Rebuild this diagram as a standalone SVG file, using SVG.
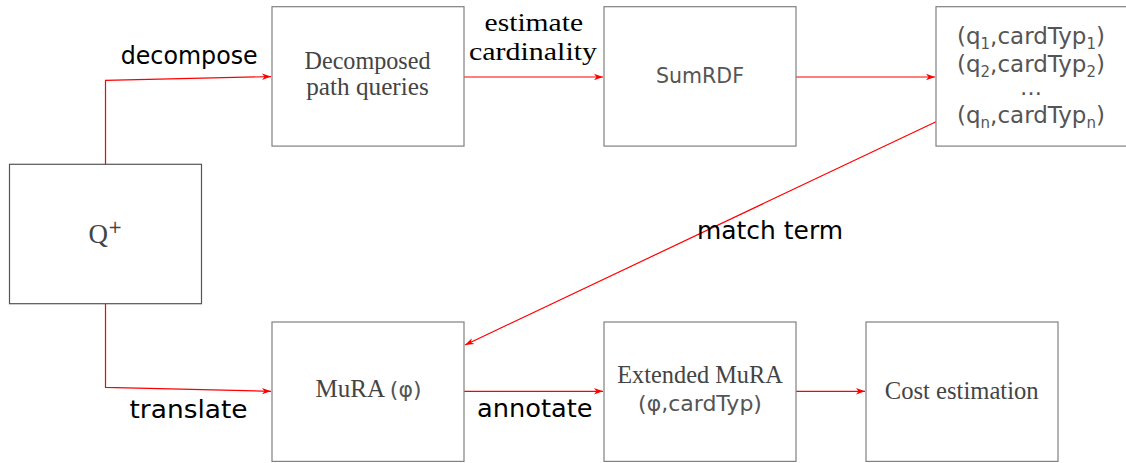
<svg xmlns="http://www.w3.org/2000/svg" width="1126" height="463" viewBox="0 0 1126 463">
<defs>
<style>
.box{fill:#fff;stroke:#808080;stroke-width:1.2}
.nt{font-family:"Liberation Serif",serif;font-size:25px;fill:#444;text-anchor:middle}
.mt{font-family:"DejaVu Sans",sans-serif;font-size:22px;fill:#555;text-anchor:middle}
.lbl{font-family:"DejaVu Sans",sans-serif;font-size:24px;fill:#000}
.lbs{font-family:"Liberation Serif",serif;font-size:26px;fill:#000;text-anchor:middle}
.conn{fill:none;stroke:#f00;stroke-width:1.2;marker-end:url(#ah)}
</style>
<marker id="ah" markerUnits="userSpaceOnUse" markerWidth="12" markerHeight="10" viewBox="-10 -5 12 10" refX="0" refY="0" orient="auto">
<path d="M0,0 L-9,-3.2 L-6.5,0 L-9,3.2 Z" fill="#f00"/>
</marker>
</defs>
<g id="connectors">
<polyline class="conn" points="105.5,164 105.5,80.3 271,76.6"/>
<polyline class="conn" points="105.5,303.7 105.5,387.3 271,391.3"/>
<line class="conn" x1="464" y1="77" x2="603" y2="77"/>
<line class="conn" x1="796" y1="77" x2="935" y2="77"/>
<line class="conn" x1="936" y1="121.7" x2="465" y2="345"/>
<line class="conn" x1="464" y1="391.3" x2="603" y2="391.3"/>
<line class="conn" x1="796" y1="391.3" x2="865" y2="391.3"/>
<text class="lbl" x="120.7" y="64" textLength="137" lengthAdjust="spacingAndGlyphs">decompose</text>
<text class="lbl" x="129.5" y="417.5" textLength="118" lengthAdjust="spacingAndGlyphs">translate</text>
<text class="lbl" x="697" y="239" textLength="146" lengthAdjust="spacingAndGlyphs">match term</text>
<text class="lbl" x="477" y="417" textLength="115.5" lengthAdjust="spacingAndGlyphs">annotate</text>
<text class="lbs" x="533.8" y="31" textLength="98.5" lengthAdjust="spacingAndGlyphs">estimate</text>
<text class="lbs" x="533" y="59.5" textLength="128" lengthAdjust="spacingAndGlyphs">cardinality</text>
</g>
<g id="node-q">
<rect class="box" x="9.5" y="164.3" width="192" height="139.4" style="stroke:#555"/>
<text x="88.5" y="242.7" style="font-family:'Liberation Serif',serif;font-size:27px;fill:#444">Q<tspan dy="-10" style="font-family:'DejaVu Sans',sans-serif;font-size:17px">+</tspan></text>
</g>
<g id="node-decomposed">
<rect class="box" x="272" y="6.7" width="192" height="139.4"/>
<text class="nt" x="367.5" y="68.5" textLength="126" lengthAdjust="spacingAndGlyphs">Decomposed</text>
<text class="nt" x="367.5" y="95" textLength="122.5" lengthAdjust="spacingAndGlyphs">path queries</text>
</g>
<g id="node-sumrdf">
<rect class="box" x="604" y="6.7" width="192" height="139.4"/>
<text class="mt" x="700" y="83.3" textLength="88" lengthAdjust="spacingAndGlyphs">SumRDF</text>
</g>
<g id="node-card">
<rect class="box" x="936" y="6.7" width="192" height="139.4"/>
<text class="mt" x="1031" y="43.5" style="font-size:23px">(q<tspan dy="5" font-size="15">1</tspan><tspan dy="-5">,cardTyp</tspan><tspan dy="5" font-size="15">1</tspan><tspan dy="-5">)</tspan></text>
<text class="mt" x="1031" y="71.5" style="font-size:23px">(q<tspan dy="5" font-size="15">2</tspan><tspan dy="-5">,cardTyp</tspan><tspan dy="5" font-size="15">2</tspan><tspan dy="-5">)</tspan></text>
<text class="mt" x="1031" y="95">…</text>
<text class="mt" x="1031" y="123" style="font-size:23px">(q<tspan dy="5" font-size="15">n</tspan><tspan dy="-5">,cardTyp</tspan><tspan dy="5" font-size="15">n</tspan><tspan dy="-5">)</tspan></text>
</g>
<g id="node-mura">
<rect class="box" x="272" y="322" width="192" height="139.4"/>
<text class="nt" x="368.5" y="396.7">MuRA <tspan style="font-family:'DejaVu Sans',sans-serif;font-size:22px;fill:#555">(φ)</tspan></text>
</g>
<g id="node-extended">
<rect class="box" x="604" y="322" width="192" height="139.4"/>
<text class="nt" x="700" y="383" textLength="165.5" lengthAdjust="spacingAndGlyphs">Extended MuRA</text>
<text class="mt" x="700" y="410.5">(φ,cardTyp)</text>
</g>
<g id="node-cost">
<rect class="box" x="866" y="322" width="192" height="139.4"/>
<text class="nt" x="961.7" y="399" textLength="153.8" lengthAdjust="spacingAndGlyphs">Cost estimation</text>
</g>
</svg>
